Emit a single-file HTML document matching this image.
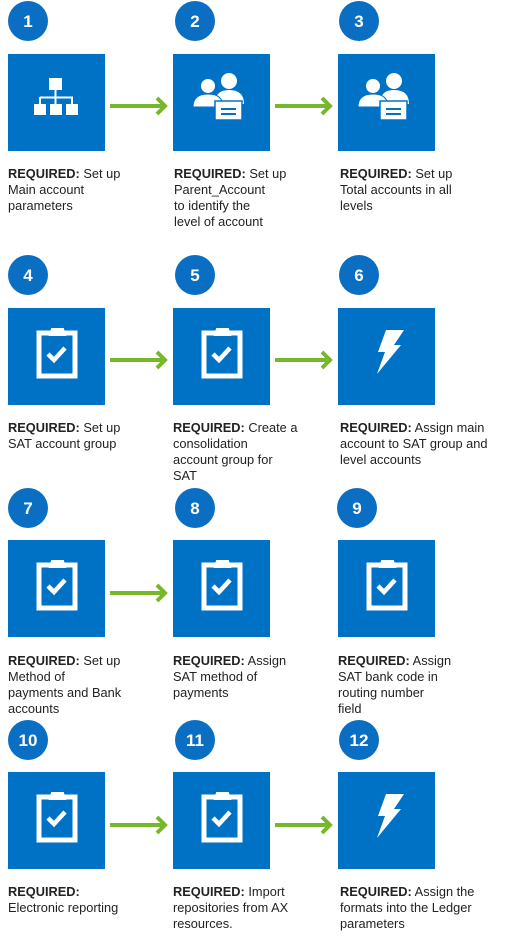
<!DOCTYPE html>
<html><head><meta charset="utf-8"><style>
html,body{margin:0;padding:0;background:#fff;}
svg{display:block}
text{font-family:"Liberation Sans",sans-serif;font-size:12.8px;fill:#222;}
.n{font-size:17px;font-weight:bold;fill:#fff;text-anchor:middle}
.b{font-weight:bold}
</style></head><body>
<svg width="505" height="939" viewBox="0 0 505 939" xmlns="http://www.w3.org/2000/svg">
<defs>
<g id="box"><rect width="97" height="97" fill="#0072c6"/></g>
<g id="org" fill="#fff"><rect x="41" y="24" width="13" height="12"/><rect x="46.5" y="36" width="2" height="8"/><rect x="32" y="42.5" width="33" height="2"/><rect x="31" y="43" width="2" height="7"/><rect x="46.5" y="43" width="2" height="7"/><rect x="63" y="43" width="2" height="7"/><rect x="26" y="50" width="12" height="11"/><rect x="42" y="50" width="12" height="11"/><rect x="58" y="50" width="12" height="11"/></g>
<g id="ppl"><circle cx="56" cy="27" r="8" fill="#fff"/><path d="M42 50 Q42 36 56 36 Q71 36 71 50 Z" fill="#fff"/><circle cx="35" cy="32" r="7.5" fill="#fff" stroke="#0072c6" stroke-width="1"/><path d="M20 53 Q20 40 35 40 Q50 40 50 53 Z" fill="#fff" stroke="#0072c6" stroke-width="1"/><rect x="42" y="47" width="27" height="19" fill="#fff" stroke="#0072c6" stroke-width="1.5"/><rect x="48" y="54" width="15" height="2" fill="#0072c6"/><rect x="48" y="59" width="15" height="2" fill="#0072c6"/></g>
<g id="clip"><rect x="31" y="25" width="36" height="43" fill="none" stroke="#fff" stroke-width="5"/><path d="M42 27 L44 21 L55 21 L57 27 Z" fill="#fff" stroke="#fff" stroke-width="2"/><path d="M40 46 L46 52 L57 40" fill="none" stroke="#fff" stroke-width="4.5"/></g>
<g id="bolt"><polygon points="48,22 66,22 56,37 63,37 39,66 47,44 40,44" fill="#fff"/></g>
<g id="arr"><line x1="0" y1="0" x2="55" y2="0" stroke="#76b82a" stroke-width="4"/><polyline points="47,-8 55,0 47,8" fill="none" stroke="#76b82a" stroke-width="4"/></g>
</defs>

<circle cx="28" cy="21" r="20" fill="#0a6fc2"/><text class="n" x="28" y="27">1</text>
<circle cx="195" cy="21" r="20" fill="#0a6fc2"/><text class="n" x="195" y="27">2</text>
<circle cx="359" cy="21" r="20" fill="#0a6fc2"/><text class="n" x="359" y="27">3</text>
<g transform="translate(8,54)"><use href="#box"/><use href="#org"/></g>
<g transform="translate(173,54)"><use href="#box"/><use href="#ppl"/></g>
<g transform="translate(338,54)"><use href="#box"/><use href="#ppl"/></g>
<use href="#arr" x="110" y="106"/><use href="#arr" x="275" y="106"/>
<text x="8" y="178"><tspan class="b">REQUIRED:</tspan> Set up<tspan x="8" dy="16">Main account</tspan><tspan x="8" dy="16">parameters</tspan></text>
<text x="174" y="178"><tspan class="b">REQUIRED:</tspan> Set up<tspan x="174" dy="16">Parent_Account</tspan><tspan x="174" dy="16">to identify the</tspan><tspan x="174" dy="16">level of account</tspan></text>
<text x="340" y="178"><tspan class="b">REQUIRED:</tspan> Set up<tspan x="340" dy="16">Total accounts in all</tspan><tspan x="340" dy="16">levels</tspan></text>

<circle cx="28" cy="275" r="20" fill="#0a6fc2"/><text class="n" x="28" y="281">4</text>
<circle cx="195" cy="275" r="20" fill="#0a6fc2"/><text class="n" x="195" y="281">5</text>
<circle cx="359" cy="275" r="20" fill="#0a6fc2"/><text class="n" x="359" y="281">6</text>
<g transform="translate(8,308)"><use href="#box"/><use href="#clip"/></g>
<g transform="translate(173,308)"><use href="#box"/><use href="#clip"/></g>
<g transform="translate(338,308)"><use href="#box"/><use href="#bolt"/></g>
<use href="#arr" x="110" y="360"/><use href="#arr" x="275" y="360"/>
<text x="8" y="432"><tspan class="b">REQUIRED:</tspan> Set up<tspan x="8" dy="16">SAT account group</tspan></text>
<text x="173" y="432"><tspan class="b">REQUIRED:</tspan> Create a<tspan x="173" dy="16">consolidation</tspan><tspan x="173" dy="16">account group for</tspan><tspan x="173" dy="16">SAT</tspan></text>
<text x="340" y="432"><tspan class="b">REQUIRED:</tspan> Assign main<tspan x="340" dy="16">account to SAT group and</tspan><tspan x="340" dy="16">level accounts</tspan></text>

<circle cx="28" cy="508" r="20" fill="#0a6fc2"/><text class="n" x="28" y="514">7</text>
<circle cx="195" cy="508" r="20" fill="#0a6fc2"/><text class="n" x="195" y="514">8</text>
<circle cx="357" cy="508" r="20" fill="#0a6fc2"/><text class="n" x="357" y="514">9</text>
<g transform="translate(8,540)"><use href="#box"/><use href="#clip"/></g>
<g transform="translate(173,540)"><use href="#box"/><use href="#clip"/></g>
<g transform="translate(338,540)"><use href="#box"/><use href="#clip"/></g>
<use href="#arr" x="110" y="593"/>
<text x="8" y="665"><tspan class="b">REQUIRED:</tspan> Set up<tspan x="8" dy="16">Method of</tspan><tspan x="8" dy="16">payments and Bank</tspan><tspan x="8" dy="16">accounts</tspan></text>
<text x="173" y="665"><tspan class="b">REQUIRED:</tspan> Assign<tspan x="173" dy="16">SAT method of</tspan><tspan x="173" dy="16">payments</tspan></text>
<text x="338" y="665"><tspan class="b">REQUIRED:</tspan> Assign<tspan x="338" dy="16">SAT bank code in</tspan><tspan x="338" dy="16">routing number</tspan><tspan x="338" dy="16">field</tspan></text>

<circle cx="28" cy="740" r="20" fill="#0a6fc2"/><text class="n" x="28" y="746">10</text>
<circle cx="195" cy="740" r="20" fill="#0a6fc2"/><text class="n" x="195" y="746">11</text>
<circle cx="359" cy="740" r="20" fill="#0a6fc2"/><text class="n" x="359" y="746">12</text>
<g transform="translate(8,772)"><use href="#box"/><use href="#clip"/></g>
<g transform="translate(173,772)"><use href="#box"/><use href="#clip"/></g>
<g transform="translate(338,772)"><use href="#box"/><use href="#bolt"/></g>
<use href="#arr" x="110" y="825"/><use href="#arr" x="275" y="825"/>
<text x="8" y="896"><tspan class="b">REQUIRED:</tspan><tspan x="8" dy="16">Electronic reporting</tspan></text>
<text x="173" y="896"><tspan class="b">REQUIRED:</tspan> Import<tspan x="173" dy="16">repositories from AX</tspan><tspan x="173" dy="16">resources.</tspan></text>
<text x="340" y="896"><tspan class="b">REQUIRED:</tspan> Assign the<tspan x="340" dy="16">formats into the Ledger</tspan><tspan x="340" dy="16">parameters</tspan></text>
</svg>
</body></html>
